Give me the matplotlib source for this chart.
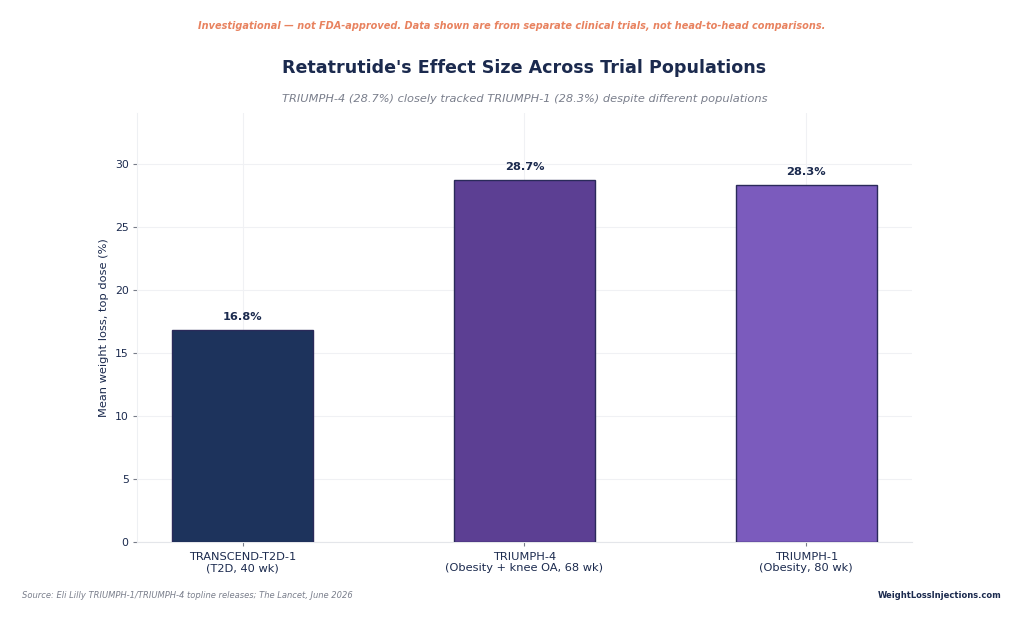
import matplotlib
matplotlib.use("Agg")
import matplotlib.pyplot as plt
from matplotlib.transforms import blended_transform_factory

# data
trials = ["TRANSCEND-T2D-1\n(T2D, 40 wk)",
          "TRIUMPH-4\n(Obesity + knee OA, 68 wk)",
          "TRIUMPH-1\n(Obesity, 80 wk)"]
weight_loss = [16.8, 28.7, 28.3]
bar_colors = ["#1d335c", "#5c3f93", "#7b5bbd"]
y_ticks = [0, 5, 10, 15, 20, 25, 30]

NAVY = "#1b2a4e"
GREY = "#7a7f8c"

fig = plt.figure(figsize=(10.24, 6.22), dpi=100)
ax = fig.add_axes([0.1338, 0.1286, 0.7568, 0.6897])

x = range(len(trials))
bars = ax.bar(x, weight_loss, width=0.5, color=bar_colors,
              edgecolor="#2a2a5a", linewidth=1.0, zorder=3)
for b, v in zip(bars, weight_loss):
    ax.annotate(f"{v:.1f}%", (b.get_x() + b.get_width() / 2, v),
                xytext=(0, 6), textcoords="offset points",
                ha="center", va="bottom", fontsize=8.2, fontweight="bold",
                color=NAVY)

ax.set_xticks(list(x))
ax.set_xticklabels(trials, fontsize=8.2, color=NAVY)
ax.set_ylim(0, 34.05)
ax.set_yticks(y_ticks)
ax.tick_params(axis="both", length=3, width=0.8, color="#777c88")
ax.tick_params(axis="y", labelsize=7.8, labelcolor=NAVY, pad=3)
ax.tick_params(axis="x", labelcolor=NAVY, pad=4)
ax.set_ylabel("Mean weight loss, top dose (%)", fontsize=8.2, color=NAVY,
              labelpad=4)

ax.grid(True, color="#f0f1f4", linewidth=0.8, zorder=0)
ax.set_axisbelow(True)
for s in ["top", "right"]:
    ax.spines[s].set_visible(False)
ax.spines["left"].set_color("#eef0f3")
ax.spines["bottom"].set_color("#e4e6ea")

# header: disclaimer centred on figure, title/subtitle centred on the axes
fig.text(0.5, 0.958, "Investigational \u2014 not FDA-approved. Data shown are from separate "
         "clinical trials, not head-to-head comparisons.",
         ha="center", va="center", fontsize=7.0, fontweight="bold",
         style="italic", color="#e8825f")
hdr = blended_transform_factory(ax.transAxes, fig.transFigure)
ax.text(0.5, 0.891, "Retatrutide's Effect Size Across Trial Populations",
        transform=hdr, ha="center", va="center", fontsize=12.6,
        fontweight="bold", color=NAVY)
ax.text(0.5, 0.841, "TRIUMPH-4 (28.7%) closely tracked TRIUMPH-1 (28.3%) despite different populations",
        transform=hdr, ha="center", va="center", fontsize=8.2,
        style="italic", color=GREY)

# footer
fig.text(0.0215, 0.042, "Source: Eli Lilly TRIUMPH-1/TRIUMPH-4 topline releases; The Lancet, June 2026",
         ha="left", va="center", fontsize=6.0, style="italic", color=GREY)
fig.text(0.978, 0.042, "WeightLossInjections.com",
         ha="right", va="center", fontsize=6.0, fontweight="bold", color=NAVY)

fig.savefig("out.png", dpi=100)
